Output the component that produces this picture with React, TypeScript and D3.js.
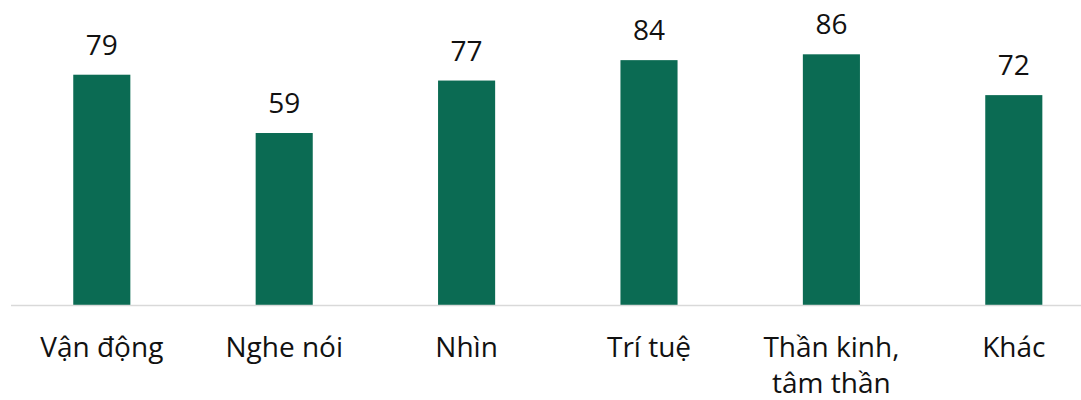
import React from "react";
import * as d3 from "d3";

const categories: string[][] = [
  ["Vận động"],
  ["Nghe nói"],
  ["Nhìn"],
  ["Trí tuệ"],
  ["Thần kinh,", "tâm thần"],
  ["Khác"],
];
const values: number[] = [79, 59, 77, 84, 86, 72];

const W = 1081;
const H = 400;

export default function App() {
  const ids = categories.map((_, i) => String(i));
  const x = d3.scaleBand<string>().domain(ids).range([10.6, 1105]).paddingInner(0.687).paddingOuter(0.3435);
  const y = d3.scaleLinear().domain([0, 100]).range([305, 13.5]);
  const font = "'Open Sans', 'Noto Sans', sans-serif";
  return (
    <svg width={W} height={H} style={{ position: "absolute", left: 0, top: 0, background: "#fff" }}>
      {values.map((v, i) => {
        const bx = x(String(i))!;
        return (
          <g key={i}>
            <rect x={bx} y={y(v)} width={x.bandwidth()} height={y(0) - y(v)} fill="#0B6B53" />
            <text
              x={bx + x.bandwidth() / 2}
              y={y(v) - 20}
              textAnchor="middle"
              fontFamily={font}
              fontSize={28}
              fill="#111"
            >
              {v}
            </text>
          </g>
        );
      })}
      <line x1={11} x2={W} y1={y(0) + 0.5} y2={y(0) + 0.5} stroke="#d9d9d9" strokeWidth={1.5} />
      {categories.map((lines, i) => {
        const cx = x(String(i))! + x.bandwidth() / 2;
        return (
          <text key={i} x={cx} y={357} textAnchor="middle" fontFamily={font} fontSize={28} fill="#111">
            {lines.map((l, j) => (
              <tspan key={j} x={cx} dy={j === 0 ? 0 : 36}>
                {l}
              </tspan>
            ))}
          </text>
        );
      })}
    </svg>
  );
}
